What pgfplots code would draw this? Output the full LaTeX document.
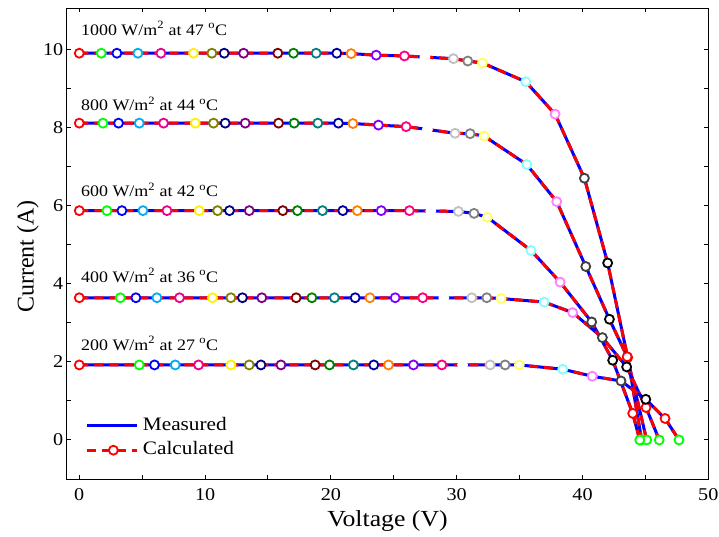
\documentclass[border=0pt]{standalone}
\usepackage{pgfplots}
\pgfplotsset{compat=1.18}
\usepackage{pgfplotstable}
\usepackage{fontspec}
\setmainfont{Liberation Serif}[FakeStretch=1.12]
\newfontfamily\plainserif{Liberation Serif}

% marker palette
\definecolor{oG}{HTML}{00FF00}
\definecolor{oDY}{HTML}{808000}
\definecolor{oNV}{HTML}{000080}
\definecolor{oPU}{HTML}{800080}
\definecolor{oWI}{HTML}{800000}
\definecolor{oOL}{HTML}{008000}
\definecolor{oDC}{HTML}{008080}
\definecolor{oRO}{HTML}{0000A0}
\definecolor{oOR}{HTML}{FF8000}
\definecolor{oVI}{HTML}{8000FF}
\definecolor{oPK}{HTML}{FF0080}
\definecolor{oLG}{HTML}{C0C0C0}
\definecolor{oGR}{HTML}{808080}
\definecolor{oLY}{HTML}{FFFF60}
\definecolor{oLC}{HTML}{80FFFF}
\definecolor{oLM}{HTML}{FF80FF}
\definecolor{oDG}{HTML}{404040}

\tikzset{ring/.style={mark=*, draw=#1, fill=white, line width=1.8pt}}

\pgfplotsset{
  pvmarks/.style={scatter, only marks, mark size=4.5pt, line width=1.8pt,
    mark options={line width=1.8pt},
    point meta=explicit symbolic,
    scatter/classes={
      r={ring=red}, g={ring=oG}, b={ring=blue}, c={ring=cyan},
      m={ring=magenta}, y={ring=yellow}, dy={ring=oDY}, nv={ring=oNV},
      pu={ring=oPU}, wi={ring=oWI}, ol={ring=oOL}, dc={ring=oDC},
      ro={ring=oRO}, or={ring=oOR}, vi={ring=oVI}, pk={ring=oPK},
      wh={ring=white}, lg={ring=oLG}, gr={ring=oGR}, ly={ring=oLY},
      lc={ring=oLC}, lm={ring=oLM}, dg={ring=oDG}, k={ring=black}}},
  meas/.style={blue, line width=3pt, line join=round, forget plot},
  calc/.style={red, line width=3pt, dash pattern=on 9pt off 6pt, line join=round, forget plot},
}

% I-V data: voltage (V), current (A), marker class
\pgfplotstableread{
V I c
0 9.90 r
1.75 9.90 g
2.99 9.90 b
4.66 9.90 c
6.49 9.90 m
9.08 9.90 y
10.54 9.90 dy
11.52 9.90 nv
13.06 9.90 pu
15.78 9.90 wi
17.03 9.90 ol
18.83 9.90 dc
20.47 9.90 ro
21.61 9.89 or
23.60 9.85 vi
25.85 9.83 pk
27.47 9.80 wh
29.74 9.76 lg
30.88 9.70 gr
32.05 9.65 ly
35.49 9.17 lc
37.82 8.34 lm
40.15 6.70 dg
42.00 4.53 k
43.59 2.11 r
44.70 0.00 g
}\dA
\pgfplotstableread{
V I c
0 8.11 r
1.88 8.11 g
3.12 8.11 b
4.77 8.11 c
6.70 8.11 m
9.22 8.11 y
10.67 8.11 dy
11.60 8.11 nv
13.19 8.11 pu
15.84 8.11 wi
17.08 8.11 ol
18.96 8.11 dc
20.60 8.11 ro
21.75 8.10 or
23.78 8.06 vi
25.98 8.02 pk
27.67 7.95 wh
29.87 7.85 lg
31.07 7.84 gr
32.18 7.78 ly
35.57 7.05 lc
37.95 6.10 lm
40.26 4.44 dg
42.14 3.09 k
43.55 2.13 r
45.10 0.00 g
}\dB
\pgfplotstableread{
V I c
0 5.87 r
2.20 5.87 g
3.39 5.87 b
5.06 5.87 c
6.97 5.87 m
9.53 5.87 y
10.99 5.87 dy
11.94 5.87 nv
13.51 5.87 pu
16.18 5.87 wi
17.34 5.87 ol
19.33 5.87 dc
20.95 5.87 ro
22.10 5.87 or
24.00 5.87 vi
26.24 5.87 pk
27.94 5.86 wh
30.14 5.85 lg
31.38 5.80 gr
32.44 5.70 ly
35.91 4.85 lc
38.22 4.04 lm
40.73 3.02 dg
42.40 2.04 k
43.99 0.68 r
44.55 0.00 g
}\dC
\pgfplotstableread{
V I c
0 3.64 r
3.26 3.64 g
4.50 3.64 b
6.17 3.64 c
7.97 3.64 m
10.59 3.64 y
12.05 3.64 dy
12.97 3.64 nv
14.51 3.64 pu
17.24 3.64 wi
18.49 3.64 ol
20.28 3.64 dc
21.93 3.64 ro
23.10 3.64 or
25.11 3.64 vi
27.30 3.64 pk
28.98 3.64 wh
31.20 3.64 lg
32.39 3.64 gr
33.53 3.62 ly
36.95 3.53 lc
39.22 3.26 lm
41.58 2.62 dg
43.51 1.87 k
45.05 0.83 r
46.10 0.00 g
}\dD
\pgfplotstableread{
V I c
0 1.92 r
4.77 1.92 g
5.98 1.92 b
7.63 1.92 c
9.48 1.92 m
12.05 1.92 y
13.51 1.92 dy
14.44 1.92 nv
16.03 1.92 pu
18.75 1.92 wi
19.89 1.92 ol
21.79 1.92 dc
23.41 1.92 ro
24.58 1.92 or
26.56 1.92 vi
28.82 1.92 pk
30.47 1.92 wh
32.66 1.92 lg
33.85 1.92 gr
34.98 1.92 ly
38.43 1.81 lc
40.78 1.63 lm
43.06 1.51 dg
45.03 1.04 k
46.56 0.55 r
47.67 0.00 g
}\dE

\newcommand\annofont{\fontsize{16}{16}\selectfont}

\begin{document}
\begin{tikzpicture}
\useasboundingbox (0pt,0pt) rectangle (719pt,536pt);
\begin{axis}[
  at={(66.7pt,57pt)}, anchor=south west,
  scale only axis, width=641.6pt, height=470.7pt,
  xmin=-1, xmax=50, ymin=-1, ymax=11.05,
  xtick={0,10,...,50}, minor xtick={5,15,...,45},
  ytick={0,2,...,10}, minor ytick={1,3,...,9},
  tick align=inside, major tick length=4pt, minor tick length=4pt,
  axis line style={line width=1pt, black},
  every tick/.style={black, line width=1pt},
  /pgf/number format/assume math mode=true,
  xticklabel style={font=\fontsize{18}{18}\selectfont, anchor=base, yshift=-21pt},
  yticklabel style={font=\fontsize{18}{18}\selectfont},
  xlabel={Voltage (V)},
  xlabel style={font=\fontsize{23}{23}\selectfont, at={(axis description cs:0.5,0)}, anchor=base, yshift=-47.5pt},
  ylabel={\plainserif\fontsize{24}{24}\selectfont Current (A)},
  ylabel style={at={(axis description cs:-0.0517,0.473)}, anchor=base},
  legend style={draw=none, fill=none, at={(axis description cs:0.0296,0.139)}, anchor=north west,
    inner sep=0pt, column sep=3pt, row sep=0pt,
    nodes={inner xsep=1pt, inner ysep=3.65pt, text height=13pt, text depth=4pt},
    font=\fontsize{19}{19}\selectfont},
  legend cell align=left,
]

\addlegendimage{legend image code/.code={\draw[blue, line width=3pt] (0pt,0pt) -- (50pt,0pt);}}
\addlegendentry{Measured}
\addlegendimage{legend image code/.code={%
  \draw[red, line width=3pt, dash pattern=on 9pt off 6pt] (0pt,0pt) -- (50pt,0pt);
  \draw[red, line width=1.8pt, fill=white] (26pt,0pt) circle (4.5pt);}}
\addlegendentry{Calculated}

% 1000 W/m2
\addplot[meas] table[x=V,y=I] {\dA};
\addplot[calc] table[x=V,y=I] {\dA};
\addplot[pvmarks, forget plot] table[x=V,y=I,meta=c] {\dA};
% 800 W/m2
\addplot[meas] table[x=V,y=I] {\dB};
\addplot[calc] table[x=V,y=I] {\dB};
\addplot[pvmarks, forget plot] table[x=V,y=I,meta=c] {\dB};
% 600 W/m2
\addplot[meas] table[x=V,y=I] {\dC};
\addplot[calc] table[x=V,y=I] {\dC};
\addplot[pvmarks, forget plot] table[x=V,y=I,meta=c] {\dC};
% 400 W/m2
\addplot[meas] table[x=V,y=I] {\dD};
\addplot[calc] table[x=V,y=I] {\dD};
\addplot[pvmarks, forget plot] table[x=V,y=I,meta=c] {\dD};
% 200 W/m2
\addplot[meas] table[x=V,y=I] {\dE};
\addplot[calc] table[x=V,y=I] {\dE};
\addplot[pvmarks, forget plot] table[x=V,y=I,meta=c] {\dE};

\node[anchor=base west, font=\annofont] at (axis cs:-0.13,10.36) {1000 W/m\textsuperscript{2} at 47 \textsuperscript{o}C};
\node[anchor=base west, font=\annofont] at (axis cs:-0.13,8.43) {800 W/m\textsuperscript{2} at 44 \textsuperscript{o}C};
\node[anchor=base west, font=\annofont] at (axis cs:-0.13,6.23) {600 W/m\textsuperscript{2} at 42 \textsuperscript{o}C};
\node[anchor=base west, font=\annofont] at (axis cs:-0.13,4.04) {400 W/m\textsuperscript{2} at 36 \textsuperscript{o}C};
\node[anchor=base west, font=\annofont] at (axis cs:-0.13,2.30) {200 W/m\textsuperscript{2} at 27 \textsuperscript{o}C};
\end{axis}
\end{tikzpicture}
\end{document}
